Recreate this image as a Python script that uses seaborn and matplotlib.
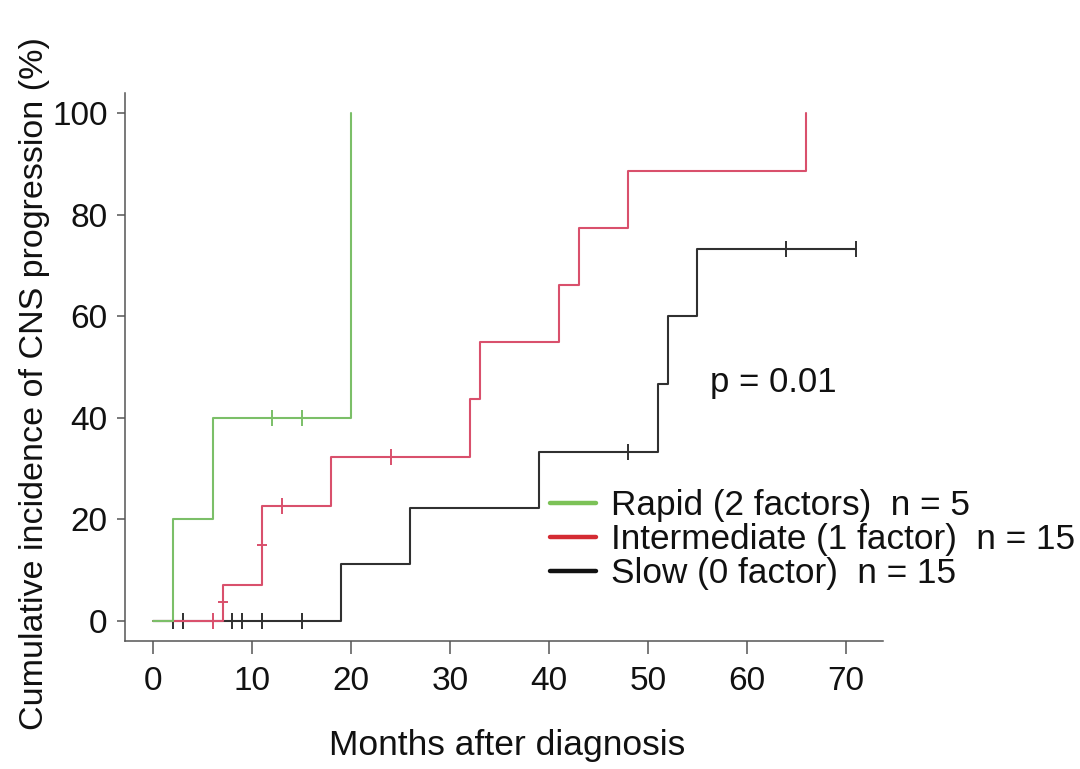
import matplotlib
matplotlib.use("Agg")
import matplotlib.pyplot as plt
from matplotlib.lines import Line2D
import seaborn as sns
import pandas as pd

# ---- data ----
rapid_t = [0, 2, 6, 20]
rapid_v = [0, 20, 40, 100]
rapid_cens_t = [12, 15]
rapid_cens_v = [40, 40]

inter_t = [0, 7, 11, 18, 32, 33, 41, 43, 48, 66]
inter_v = [0, 7.1, 22.6, 32.3, 43.6, 54.9, 66.1, 77.4, 88.7, 100]
inter_cens_t = [6, 13, 24]
inter_cens_v = [0, 22.6, 32.3]
inter_cens_vert_t = [7, 11]
inter_cens_vert_v = [3.6, 14.9]

slow_t = [0, 19, 26, 39, 51, 52, 55, 71]
slow_v = [0, 11.1, 22.2, 33.3, 46.7, 60, 73.3, 73.3]
slow_cens_t = [2, 3, 8, 9, 11, 15, 48, 64, 71]
slow_cens_v = [0, 0, 0, 0, 0, 0, 33.3, 73.3, 73.3]

labels = ["Rapid (2 factors)  n = 5",
          "Intermediate (1 factor)  n = 15",
          "Slow (0 factor)  n = 15"]
x_ticks = [0, 10, 20, 30, 40, 50, 60, 70]
y_ticks = [0, 20, 40, 60, 80, 100]

sns.set_style("ticks")
plt.rcParams["font.family"] = ["Liberation Sans", "DejaVu Sans"]

line_col = {"g": "#7bbf68", "r": "#d9506c", "k": "#303030"}
leg_col = {"g": "#7cc257", "r": "#d42b33", "k": "#111111"}

fig = plt.figure(figsize=(10.8, 7.69), dpi=100)
ax = fig.add_axes([0.11574, 0.16684, 0.8179 - 0.11574, 0.87867 - 0.16684])

def steps(t, v, col, z):
    df = pd.DataFrame({"t": t, "v": v})
    sns.lineplot(data=df, x="t", y="v", ax=ax, color=col, lw=1.5,
                 drawstyle="steps-post", estimator=None, sort=False,
                 zorder=z, legend=False)

def cens(t, v, col, z, marker="|", s=130):
    df = pd.DataFrame({"t": t, "v": v})
    sns.scatterplot(data=df, x="t", y="v", ax=ax, color=col, marker=marker,
                    s=s, linewidth=1.4, zorder=z, legend=False)

steps(slow_t, slow_v, line_col["k"], 2)
cens(slow_cens_t, slow_cens_v, line_col["k"], 2.1)
steps(inter_t, inter_v, line_col["r"], 3)
cens(inter_cens_t, inter_cens_v, line_col["r"], 3.1)
cens(inter_cens_vert_t, inter_cens_vert_v, line_col["r"], 3.1, marker="_", s=45)
steps(rapid_t, rapid_v, line_col["g"], 4)
cens(rapid_cens_t, rapid_cens_v, line_col["g"], 4.1)

ax.set_xlim(-2.86, 73.8)
ax.set_ylim(-3.94, 103.94)
ax.set_xticks(x_ticks)
ax.set_yticks(y_ticks)
ax.set_xlabel("")
ax.set_ylabel("")
for s in ["top", "right"]:
    ax.spines[s].set_visible(False)
for s in ["left", "bottom"]:
    ax.spines[s].set_color("#555555")
    ax.spines[s].set_linewidth(1.1)
ax.tick_params(axis="x", length=9.5, width=1.1, color="#555555",
               labelsize=24, pad=9, labelcolor="#111111")
ax.tick_params(axis="y", length=5.5, width=1.1, color="#555555",
               labelsize=24, pad=7, labelcolor="#111111")

ax.text(56.3, 46.9, "p = 0.01", fontsize=25, ha="left", va="center",
        color="#111111")

handles = [Line2D([], [], color=leg_col[c], lw=3.2) for c in ["g", "r", "k"]]
leg = fig.legend(handles, labels, loc="upper left",
                 bbox_to_anchor=(550 / 1080, 1 - 489 / 769),
                 frameon=False, fontsize=25.3, handlelength=1.3,
                 handletextpad=0.45, labelspacing=0.03, borderpad=0,
                 borderaxespad=0)
for t in leg.get_texts():
    t.set_color("#111111")

fig.text(507 / 1080, 1 - 745 / 769, "Months after diagnosis", fontsize=25.5,
         ha="center", va="center", color="#111111")
fig.text(35 / 1080, 1 - 384 / 769, "Cumulative incidence of CNS progression (%)",
         fontsize=24.5, ha="center", va="center", rotation=90, color="#111111")

fig.savefig("out.png", dpi=100, facecolor="white")
